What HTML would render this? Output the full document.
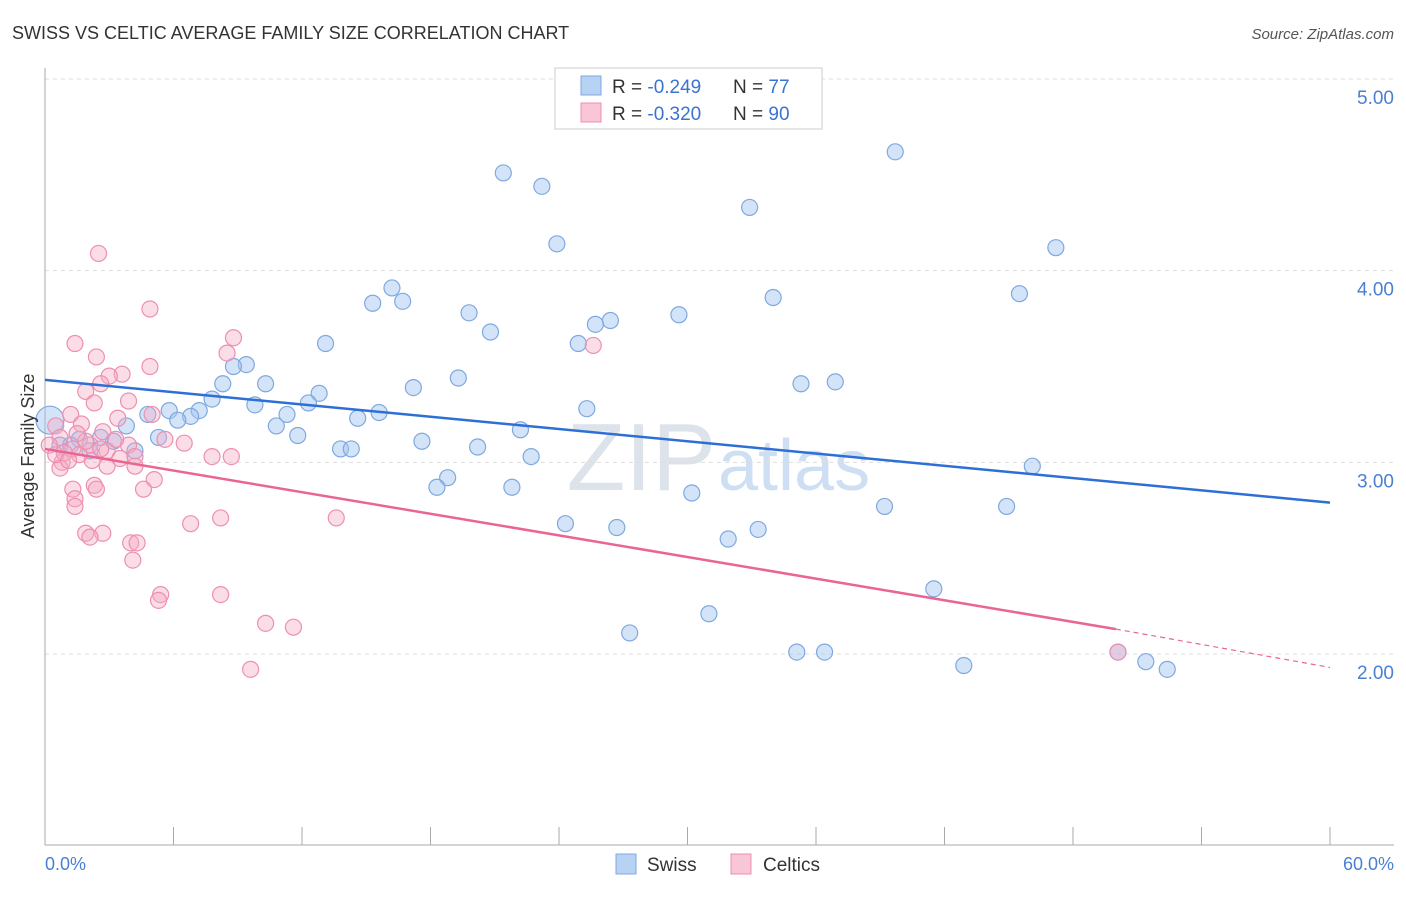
<!DOCTYPE html>
<html><head><meta charset="utf-8"><style>
body{margin:0;background:#fff;font-family:"Liberation Sans",sans-serif;}
svg text{font-family:"Liberation Sans",sans-serif;}
</style></head><body>
<svg id="chart" width="1406" height="892">
<text x="12" y="39" font-size="18" fill="#333">SWISS VS CELTIC AVERAGE FAMILY SIZE CORRELATION CHART</text>
<text x="1394" y="39" font-size="15" fill="#555" font-style="italic" text-anchor="end">Source: ZipAtlas.com</text>
<text x="716" y="490" font-size="96" fill="#dde3ea" text-anchor="end" font-family="Liberation Serif">ZIP</text>
<text x="718" y="490" font-size="72" fill="#cfdff3">atlas</text>
<g id="grid"></g><g id="axes"></g><g id="pts"></g><g id="lines"></g>
<text transform="translate(34,456) rotate(-90)" font-size="18" fill="#333" text-anchor="middle">Average Family Size</text>
<text x="45" y="870" font-size="18" fill="#4a7fd4">0.0%</text>
<text x="1394" y="870" font-size="18" fill="#4a7fd4" text-anchor="end">60.0%</text>
<g>
<rect x="555" y="68" width="267" height="61" fill="#fff" stroke="#ccc"/>
<rect x="581" y="76" width="20" height="19" fill="#b8d2f3" stroke="#7fa8e0"/>
<rect x="581" y="103" width="20" height="19" fill="#f9c6d6" stroke="#ee8fb0"/>
<text x="612" y="93" font-size="19" fill="#333">R = <tspan fill="#3b73d1">-0.249</tspan><tspan x="733">N = </tspan><tspan fill="#3b73d1">77</tspan></text>
<text x="612" y="120" font-size="19" fill="#333">R = <tspan fill="#3b73d1">-0.320</tspan><tspan x="733">N = </tspan><tspan fill="#3b73d1">90</tspan></text>
</g>
<g>
<rect x="616" y="854" width="20" height="20" fill="#b8d2f3" stroke="#7fa8e0"/>
<text x="647" y="871" font-size="19" fill="#333">Swiss</text>
<rect x="731" y="854" width="20" height="20" fill="#f9c6d6" stroke="#ee8fb0"/>
<text x="763" y="871" font-size="19" fill="#333">Celtics</text>
</g>
</svg>
<script>
const yTicks=[2,3,4,5];
const yTickLabels=["2.00","3.00","4.00","5.00"];
const swissX=[0.23,21.4,23.2,39.7,32.9,23.9,47.2,16.2,15.3,16.7,19.8,34.0,45.5,20.8,25.7,26.4,29.6,13.1,24.9,9.4,8.8,8.3,10.3,7.8,12.8,17.2,19.3,35.3,36.9,9.8,5.8,4.8,7.2,6.8,6.2,11.3,12.3,14.6,15.6,25.3,10.8,11.8,22.2,5.3,3.8,17.6,20.2,13.8,14.3,22.7,4.2,3.2,2.6,46.1,18.8,18.3,21.8,30.2,39.2,44.9,24.3,26.7,31.9,33.3,41.5,31.0,27.3,35.1,36.4,42.9,51.4,52.4,50.1,1.6,0.7,2.1,1.2];
const swissY=[3.22,4.51,4.44,4.62,4.33,4.14,4.12,3.91,3.83,3.84,3.78,3.86,3.88,3.68,3.72,3.74,3.77,3.62,3.62,3.51,3.50,3.41,3.41,3.33,3.36,3.39,3.44,3.41,3.42,3.30,3.27,3.25,3.27,3.24,3.22,3.25,3.31,3.23,3.26,3.28,3.19,3.14,3.17,3.13,3.19,3.11,3.08,3.07,3.07,3.03,3.06,3.11,3.13,2.98,2.92,2.87,2.87,2.84,2.77,2.77,2.68,2.66,2.60,2.65,2.34,2.21,2.11,2.01,2.01,1.94,1.96,1.92,2.01,3.12,3.09,3.06,3.09];
const celtX=[2.5,4.9,1.4,8.8,8.5,2.4,4.9,3.6,3.0,2.6,1.9,2.3,3.9,5.0,1.2,3.4,1.7,0.5,2.7,5.6,6.5,3.9,0.7,2.1,1.3,2.9,4.2,7.8,8.7,0.8,2.2,2.9,4.2,0.7,5.1,2.3,2.4,1.3,4.6,1.4,1.4,13.6,8.2,6.8,1.9,2.7,2.1,4.0,4.3,4.1,5.4,5.3,8.2,10.3,11.6,9.6,25.6,50.1,0.2,0.9,1.6,2.6,3.3,0.5,1.9,3.5,1.1,1.5];
const celtY=[4.09,3.80,3.62,3.65,3.57,3.55,3.50,3.46,3.45,3.41,3.37,3.31,3.32,3.25,3.25,3.23,3.20,3.19,3.16,3.12,3.10,3.09,3.13,3.09,3.07,3.06,3.03,3.03,3.03,3.00,3.01,2.98,2.98,2.97,2.91,2.88,2.86,2.86,2.86,2.81,2.77,2.71,2.71,2.68,2.63,2.63,2.61,2.58,2.58,2.49,2.31,2.28,2.31,2.16,2.14,1.92,3.61,2.01,3.09,3.05,3.04,3.07,3.12,3.04,3.11,3.02,3.01,3.15];
const swissTrend=[3.43,2.79];
const celtTrend=[3.07,2.13,1.93];
const NS="http://www.w3.org/2000/svg";
const X=v=>45+v/60*1285;
const Y=v=>79+(5-v)*191.67;
function mk(tag,attrs,parent){const e=document.createElementNS(NS,tag);for(const k in attrs)e.setAttribute(k,attrs[k]);document.getElementById(parent).appendChild(e);return e;}
yTicks.forEach((t,i)=>{
 const g=mk('line',{x1:45,x2:1394,y1:Y(t),y2:Y(t),stroke:'#ddd','stroke-dasharray':'4,4'},'grid');
 
 
 const tx=mk('text',{x:1394,y:Y(t)+25,'font-size':19,fill:'#4a7fd4','text-anchor':'end'},'grid');
 tx.textContent=yTickLabels[i];
 
 
});
const ya=mk('line',{x1:45,x2:45,y1:68,y2:845,stroke:'#aaa'},'axes');


const xa=mk('line',{x1:45,x2:1394,y1:845,y2:845,stroke:'#aaa'},'axes');


for(let i=0;i<=10;i++){const t=mk('line',{x1:X(i*6),x2:X(i*6),y1:827,y2:845,stroke:'#aaa'},'axes');
 
 }
swissX.forEach((v,i)=>{const c=mk('circle',{cx:X(v),cy:Y(swissY[i]),r:i===0?14:8,fill:'rgba(160,195,240,0.45)',stroke:'#7fa8e0','stroke-width':1.2},'pts');
 
 });
celtX.forEach((v,i)=>{const c=mk('circle',{cx:X(v),cy:Y(celtY[i]),r:8,fill:'rgba(245,170,195,0.4)',stroke:'#ee8fb0','stroke-width':1.2},'pts');
 
 });
const sl=mk('line',{x1:X(0),y1:Y(swissTrend[0]),x2:X(60),y2:Y(swissTrend[1]),stroke:'#2e6fd6','stroke-width':2.5},'lines');


const cl=mk('line',{x1:X(0),y1:Y(celtTrend[0]),x2:X(50),y2:Y(celtTrend[1]),stroke:'#ea6592','stroke-width':2.5},'lines');


const cd=mk('line',{x1:X(50),y1:Y(celtTrend[1]),x2:X(60),y2:Y(celtTrend[2]),stroke:'#ea6592','stroke-width':1.2,'stroke-dasharray':'5,4'},'lines');


</script>
</body></html>
